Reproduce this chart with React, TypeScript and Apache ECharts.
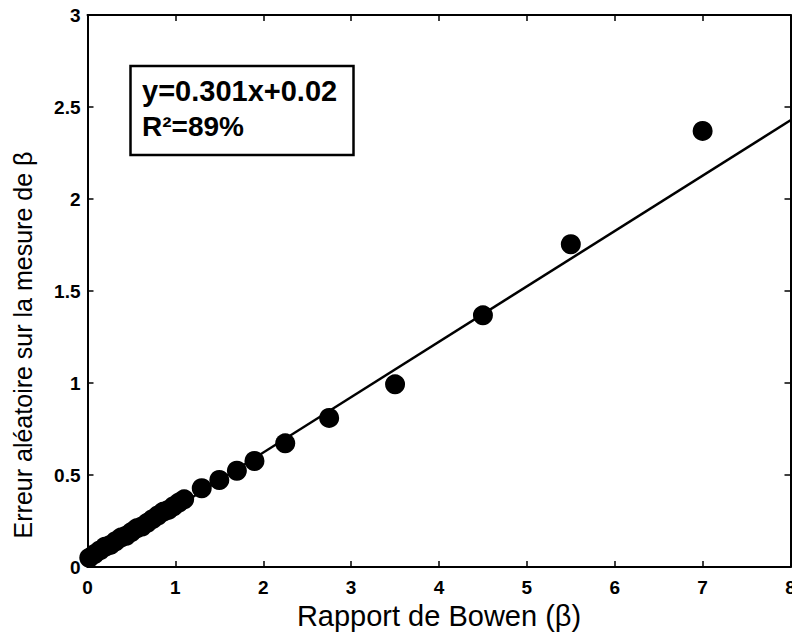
import React, { useEffect, useRef } from "react";
import * as echarts from "echarts";

const clusterX = [0.02, 0.08, 0.14, 0.2, 0.26, 0.32, 0.38, 0.44, 0.5, 0.56, 0.62, 0.68, 0.74, 0.8, 0.86, 0.92, 0.98, 1.04];
const clusterY = [0.05, 0.07, 0.09, 0.11, 0.12, 0.14, 0.16, 0.17, 0.19, 0.21, 0.22, 0.24, 0.26, 0.28, 0.3, 0.31, 0.33, 0.35];
const pointX = [1.1, 1.3, 1.5, 1.7, 1.9, 2.25, 2.75, 3.5, 4.5, 5.5, 7.0];
const pointY = [0.368, 0.428, 0.473, 0.523, 0.576, 0.672, 0.81, 0.993, 1.368, 1.754, 2.37];
const fitSlope = 0.301;
const fitIntercept = 0.02;
const fitX = [0, 8];
const xTicks = [0, 1, 2, 3, 4, 5, 6, 7, 8];
const yTicks = [0, 0.5, 1, 1.5, 2, 2.5, 3];
const xTitle = "Rapport de Bowen (β)";
const yTitle = "Erreur aléatoire sur la mesure de β";
const eqLine1 = "y=0.301x+0.02";
const eqLine2 = "R²=89%";

export default function App() {
  const ref = useRef<HTMLDivElement>(null);
  useEffect(() => {
    if (!ref.current) return;
    const chart = echarts.init(ref.current, null, { renderer: "svg" });
    const scatterData = [
      ...clusterX.map((x, i) => [x, clusterY[i]]),
      ...pointX.map((x, i) => [x, pointY[i]]),
    ];
    const lineData = fitX.map((x) => [x, fitSlope * x + fitIntercept]);
    const fam = "'Liberation Sans', Arial, sans-serif";
    const axisLine = { show: true, onZero: false, lineStyle: { color: "#000", width: 2 } };
    const axisTick = { show: true, inside: true, length: 6, lineStyle: { color: "#000", width: 1.5 } };
    chart.setOption({
      animation: false,
      backgroundColor: "#fff",
      grid: { left: 87.5, right: 1.5, top: 15, bottom: 68, outerBoundsMode: "none", containLabel: false },
      xAxis: [
        {
          type: "value",
          min: xTicks[0],
          max: xTicks[xTicks.length - 1],
          interval: 1,
          position: "bottom",
          splitLine: { show: false },
          axisLine,
          axisTick,
          axisLabel: {
            color: "#000",
            fontFamily: fam,
            fontWeight: 700,
            fontSize: 19,
            margin: 11,
            formatter: (v: number) => String(v),
          },
          name: xTitle,
          nameLocation: "middle",
          nameGap: 34,
          nameTextStyle: { color: "#000", fontFamily: fam, fontSize: 29 },
        },
        {
          type: "value",
          min: xTicks[0],
          max: xTicks[xTicks.length - 1],
          interval: 1,
          position: "top",
          splitLine: { show: false },
          axisLine,
          axisTick,
          axisLabel: { show: false },
        },
      ],
      yAxis: [
        {
          type: "value",
          min: yTicks[0],
          max: yTicks[yTicks.length - 1],
          interval: 0.5,
          position: "left",
          splitLine: { show: false },
          axisLine,
          axisTick,
          axisLabel: {
            color: "#000",
            fontFamily: fam,
            fontWeight: 700,
            fontSize: 19,
            margin: 7,
            formatter: (v: number) => String(v),
          },
        },
        {
          type: "value",
          min: yTicks[0],
          max: yTicks[yTicks.length - 1],
          interval: 0.5,
          position: "right",
          splitLine: { show: false },
          axisLine,
          axisTick,
          axisLabel: { show: false },
        },
      ],
      series: [
        {
          type: "line",
          data: lineData,
          symbol: "none",
          lineStyle: { color: "#000", width: 2.5 },
          z: 2,
        },
        {
          type: "scatter",
          data: scatterData,
          symbol: "circle",
          symbolSize: 20,
          itemStyle: { color: "#000", opacity: 1 },
          z: 3,
        },
      ],
      graphic: [
        {
          type: "text",
          x: 23,
          y: 345,
          rotation: Math.PI / 2,
          style: {
            text: yTitle,
            fill: "#000",
            font: "25px " + fam,
            align: "center",
            verticalAlign: "middle",
          },
        },
        {
          type: "rect",
          shape: { x: 130.5, y: 66, width: 223, height: 89 },
          style: { fill: "#fff", stroke: "#000", lineWidth: 2.5 },
          z: 10,
        },
        {
          type: "text",
          x: 142,
          y: 91,
          style: {
            text: eqLine1,
            fill: "#000",
            font: "bold 29px " + fam,
            verticalAlign: "middle",
          },
          z: 11,
        },
        {
          type: "text",
          x: 142,
          y: 126,
          style: {
            text: eqLine2,
            fill: "#000",
            font: "bold 28px " + fam,
            verticalAlign: "middle",
          },
          z: 11,
        },
      ],
    });
    return () => chart.dispose();
  }, []);
  return (
    <div
      ref={ref}
      style={{ position: "absolute", left: 0, top: 0, width: 792, height: 635, background: "#fff" }}
    />
  );
}
